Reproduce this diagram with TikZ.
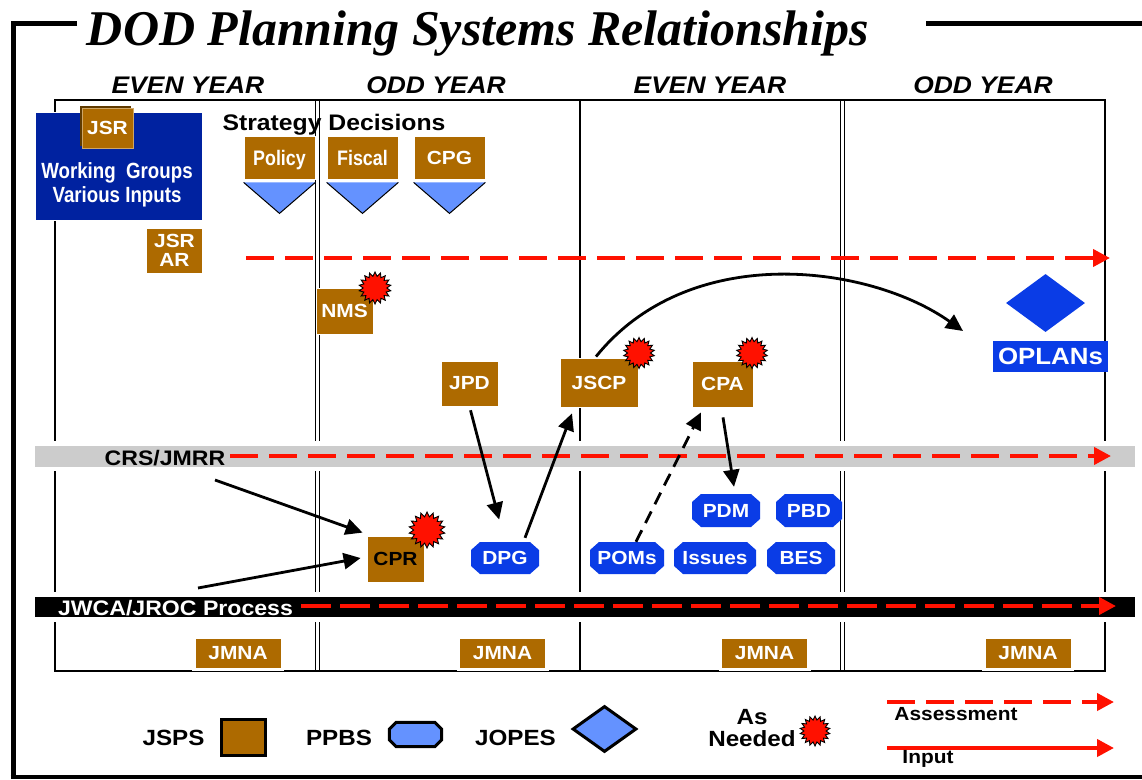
\documentclass[tikz,border=0pt]{standalone}
\usepackage{fontspec}
\setmainfont{Liberation Sans}[FakeStretch=1.1]
\newfontfamily\narrowfont{Liberation Sans}[FakeStretch=0.85]
\newfontfamily\titlefont{Liberation Serif}
\usetikzlibrary{shapes.geometric,shapes.misc,arrows.meta,calc}
\newcommand\myfs[1]{\fontsize{#1}{#1}\selectfont}
\definecolor{brn}{HTML}{AD6A00}
\definecolor{dkblue}{HTML}{0022A0}
\definecolor{pblue}{HTML}{0A3CE6}
\definecolor{lblue}{HTML}{6492FF}
\definecolor{myred}{HTML}{FF1100}
\definecolor{band}{HTML}{CCCCCC}
\tikzset{
  jsps/.style={rectangle, fill=brn, draw=white, line width=0.8pt, inner sep=0pt, text=white, font=\bfseries\myfs{19}},
  jmna/.style={jsps, minimum width=86, minimum height=30, preaction={draw=white, line width=6pt}},
  ppbs/.style={rectangle, inner sep=0pt, text=white, font=\bfseries\myfs{19},
    path picture={\fill[pblue]
      ($(path picture bounding box.south west)+(9pt,0pt)$) --
      ($(path picture bounding box.south east)+(-9pt,0pt)$) --
      ($(path picture bounding box.south east)+(0pt,8pt)$) --
      ($(path picture bounding box.north east)+(0pt,-8pt)$) --
      ($(path picture bounding box.north east)+(-9pt,0pt)$) --
      ($(path picture bounding box.north west)+(9pt,0pt)$) --
      ($(path picture bounding box.north west)+(0pt,-8pt)$) --
      ($(path picture bounding box.south west)+(0pt,8pt)$) -- cycle;}},
  burst/.style={star, star points=18, star point ratio=1.35, fill=myred, draw=black, line width=0.9pt, inner sep=0pt},
  arr/.style={draw=black, line width=2.8pt, -{Triangle[length=17pt,width=16pt]}},
  rdash/.style={draw=myred, line width=4pt, dash pattern=on 28pt off 11pt, -{Triangle[length=17pt,width=17pt]}},
  tbl/.style={draw=black, line width=1.4pt},
  dbl/.style={draw=black, line width=1.1pt},
  lbl/.style={font=\bfseries\myfs{21}, inner sep=0pt},
}
\begin{document}
\begin{tikzpicture}[x=1pt,y=-1pt]
\fill[white] (0,0) rectangle (1142,779);
\useasboundingbox (0,0) rectangle (1142,779);

% outer frame
\draw[line width=5pt] (77,23) -- (13,23) -- (13,779);
\draw[line width=5pt] (926,23) -- (1142,23);
\draw[line width=4pt] (10.5,777) -- (1142,777);

% title
\node[anchor=base, font=\titlefont\bfseries\itshape\myfs{50}, inner sep=0pt] (title) at (478,45) {DOD Planning Systems Relationships};

% year headers
\node[font=\bfseries\itshape\myfs{24}, inner sep=0pt] (h1) at (188,85.5) {EVEN YEAR};
\node[font=\bfseries\itshape\myfs{24}, inner sep=0pt] (h2) at (436,85.5) {ODD YEAR};
\node[font=\bfseries\itshape\myfs{24}, inner sep=0pt] (h3) at (710,85.5) {EVEN YEAR};
\node[font=\bfseries\itshape\myfs{24}, inner sep=0pt] (h4) at (983,85.5) {ODD YEAR};

% table
\draw[tbl] (55,100) rectangle (1105,671);
\draw[dbl] (315.5,100) -- (315.5,671);
\draw[dbl] (319.5,100) -- (319.5,671);
\draw[line width=2pt] (580,100) -- (580,671);
\draw[dbl] (840.5,100) -- (840.5,671);
\draw[dbl] (844.5,100) -- (844.5,671);

% bands
\fill[white] (35,441) rectangle (1137,471);
\fill[band] (35,446) rectangle (1135,467);
\fill[white] (35,592) rectangle (1137,622);
\fill[black] (35,597) rectangle (1135,617);
\node[lbl, anchor=base] (crs) at (165,465) {CRS/JMRR};
\node[lbl, anchor=base, text=white] (jwca) at (175.5,615) {JWCA/JROC Process};

% dashed assessment arrows
\coordinate (d1s) at (246,258);
\coordinate (d1e) at (1110,258);
\draw[rdash] (d1s) -- (d1e);
\coordinate (d2s) at (230,456);
\coordinate (d2e) at (1111,456);
\draw[rdash] (d2s) -- (d2e);
\coordinate (d3s) at (301,606);
\coordinate (d3e) at (1116,606);
\draw[rdash, dash pattern=on 30pt off 9pt] (d3s) -- (d3e);

% working groups box
\node[fill=dkblue, draw=white, line width=0.8pt, minimum width=167, minimum height=108, inner sep=0pt] (wg) at (118.5,166) {};
\node[text=white, font=\narrowfont\bfseries\myfs{22}, anchor=base, inner sep=0pt] (wg1) at (117,178) {Working\ \ Groups};
\node[text=white, font=\narrowfont\bfseries\myfs{22}, anchor=base, inner sep=0pt] (wg2) at (117,202) {Various Inputs};
\fill[brn!55!black] (80,106) rectangle (131,146);
\node[jsps, minimum width=51, minimum height=40, draw=brn!60!white] (jsr) at (107.5,128) {JSR};

% strategy decisions
\node[font=\bfseries\myfs{22.5}, anchor=base, inner sep=0pt] (sd) at (334,130) {Strategy Decisions};
\node[jsps, minimum width=71, minimum height=43, font=\narrowfont\bfseries\myfs{21}, text depth=0pt] (pol) at (279.5,157.5) {Policy};
\node[jsps, minimum width=71, minimum height=43, font=\narrowfont\bfseries\myfs{21}] (fis) at (362.5,157.5) {Fiscal};
\node[jsps, minimum width=71, minimum height=43] (cpg) at (449.5,157.5) {CPG};
\foreach \n in {pol,fis,cpg}{
  \fill[lblue] ($(\n.south west)+(0,3)$) -- ($(\n.south east)+(0,3)$) -- ($(\n.south)+(0,34)$) -- cycle;
  \draw[line width=1pt] ($(\n.south west)+(0,3)$) -- ($(\n.south)+(0,34)$) -- ($(\n.south east)+(0,3)$);
}

% JSPS boxes
\node[jsps, minimum width=56, minimum height=45, align=center] (jsrar) at (174.5,250.5) {JSR\\AR};
\node[jsps, minimum width=57, minimum height=46] (nms) at (344.5,311) {NMS};
\node[jsps, minimum width=57, minimum height=45] (jpd) at (469.5,383.5) {JPD};
\node[jsps, minimum width=78, minimum height=49] (jscp) at (599,382.5) {JSCP};
\node[jsps, minimum width=61, minimum height=46] (cpa) at (722.5,384) {CPA};
\node[jsps, minimum width=57, minimum height=46, text=black] (cpr) at (395.5,559) {CPR};

\node[burst, minimum size=32] (snms) at (375,288) {};
\node[burst, minimum size=36] (scpr) at (427,530) {};
\node[burst, minimum size=31] (sjscp) at (639,353) {};
\node[burst, minimum size=31] (scpa) at (752,353) {};

% JMNA
\node[jmna] (jm1) at (238,653) {JMNA};
\node[jmna] (jm2) at (502.5,653) {JMNA};
\node[jmna] (jm3) at (764.5,653) {JMNA};
\node[jmna] (jm4) at (1028,653) {JMNA};

% PPBS
\node[ppbs, minimum width=68, minimum height=32] (dpg) at (505,558) {DPG};
\node[ppbs, minimum width=68, minimum height=33] (pdm) at (726,510.5) {PDM};
\node[ppbs, minimum width=66, minimum height=33] (pbd) at (809,510.5) {PBD};
\node[ppbs, minimum width=74, minimum height=32] (poms) at (627,558) {POMs};
\node[ppbs, minimum width=82, minimum height=32] (iss) at (715,558) {Issues};
\node[ppbs, minimum width=68, minimum height=32] (bes) at (801,558) {BES};

% OPLANs
\node[diamond, fill=pblue, minimum width=79, minimum height=58, inner sep=0pt] (opl) at (1045.5,303) {};
\node[fill=pblue, minimum width=115, minimum height=31, inner sep=0pt, text=white, font=\bfseries\myfs{23.5}] (opllbl) at (1050.5,356.5) {OPLANs};

% connectors
\coordinate (crs1) at (215,480);
\coordinate (crs2) at (198,588);
\draw[arr] (crs1) -- ($(cpr.north west)+(-4,-3)$);
\draw[arr] (crs2) -- ($(cpr.west)+(-6,-1)$);
\draw[arr, shorten <=4pt, shorten >=23pt] (jpd.south) -- (dpg.north);
\draw[arr] ($(dpg.north)+(20,-4)$) -- ($(jscp.south)+(-27,6)$);
\draw[arr, dash pattern=on 13pt off 8pt] ($(poms.north)+(9,0)$) -- ($(cpa.south)+(-21.5,5)$);
\draw[arr] ($(cpa.south)+(0.5,10)$) -- ($(pdm.north)+(8,-7)$);
\coordinate (oplend) at (963,331);
\draw[arr] ($(jscp.north)+(-3,-1)$) .. controls (690,240) and (870,265) .. (oplend);

% legend
\node[lbl, anchor=base, font=\bfseries\myfs{22}] (ljsps) at (173.5,745) {JSPS};
\node[rectangle, fill=brn, draw=black, line width=3pt, minimum width=44, minimum height=36, inner sep=0pt] (lbox) at (243.5,737.5) {};
\node[lbl, anchor=base, font=\bfseries\myfs{22}] (lppbs) at (339,745) {PPBS};
\node[rectangle, minimum width=52, minimum height=24, inner sep=0pt] (loct) at (415.5,734.5) {};
\draw[fill=lblue, line width=3pt, line join=miter]
  ($(loct.south west)+(7pt,0pt)$) -- ($(loct.south east)+(-7pt,0pt)$) --
  ($(loct.south east)+(0pt,7pt)$) -- ($(loct.north east)+(0pt,-7pt)$) --
  ($(loct.north east)+(-7pt,0pt)$) -- ($(loct.north west)+(7pt,0pt)$) --
  ($(loct.north west)+(0pt,-7pt)$) -- ($(loct.south west)+(0pt,7pt)$) -- cycle;
\node[lbl, anchor=base, font=\bfseries\myfs{22}] (ljopes) at (515.5,745) {JOPES};
\node[diamond, fill=lblue, draw=black, line width=3pt, minimum width=64, minimum height=46, inner sep=0pt] (ldia) at (604.5,729) {};
\node[lbl, anchor=base, font=\bfseries\myfs{22}] (las) at (752,724) {As};
\node[lbl, anchor=base, font=\bfseries\myfs{22}] (lneed) at (752,746) {Needed};
\node[burst, minimum size=30] (lstar) at (815,731) {};
\coordinate (la1) at (887,702);
\coordinate (la2) at (1114,702);
\draw[rdash] (la1) -- (la2);
\coordinate (li1) at (887,748);
\coordinate (li2) at (1114,748);
\draw[draw=myred, line width=4pt, -{Triangle[length=17pt,width=17pt]}] (li1) -- (li2);
\node[lbl, anchor=base, font=\bfseries\myfs{19}] (lass) at (956,720) {Assessment};
\node[lbl, anchor=base, font=\bfseries\myfs{19}] (linp) at (928,763) {Input};
\end{tikzpicture}
\end{document}
